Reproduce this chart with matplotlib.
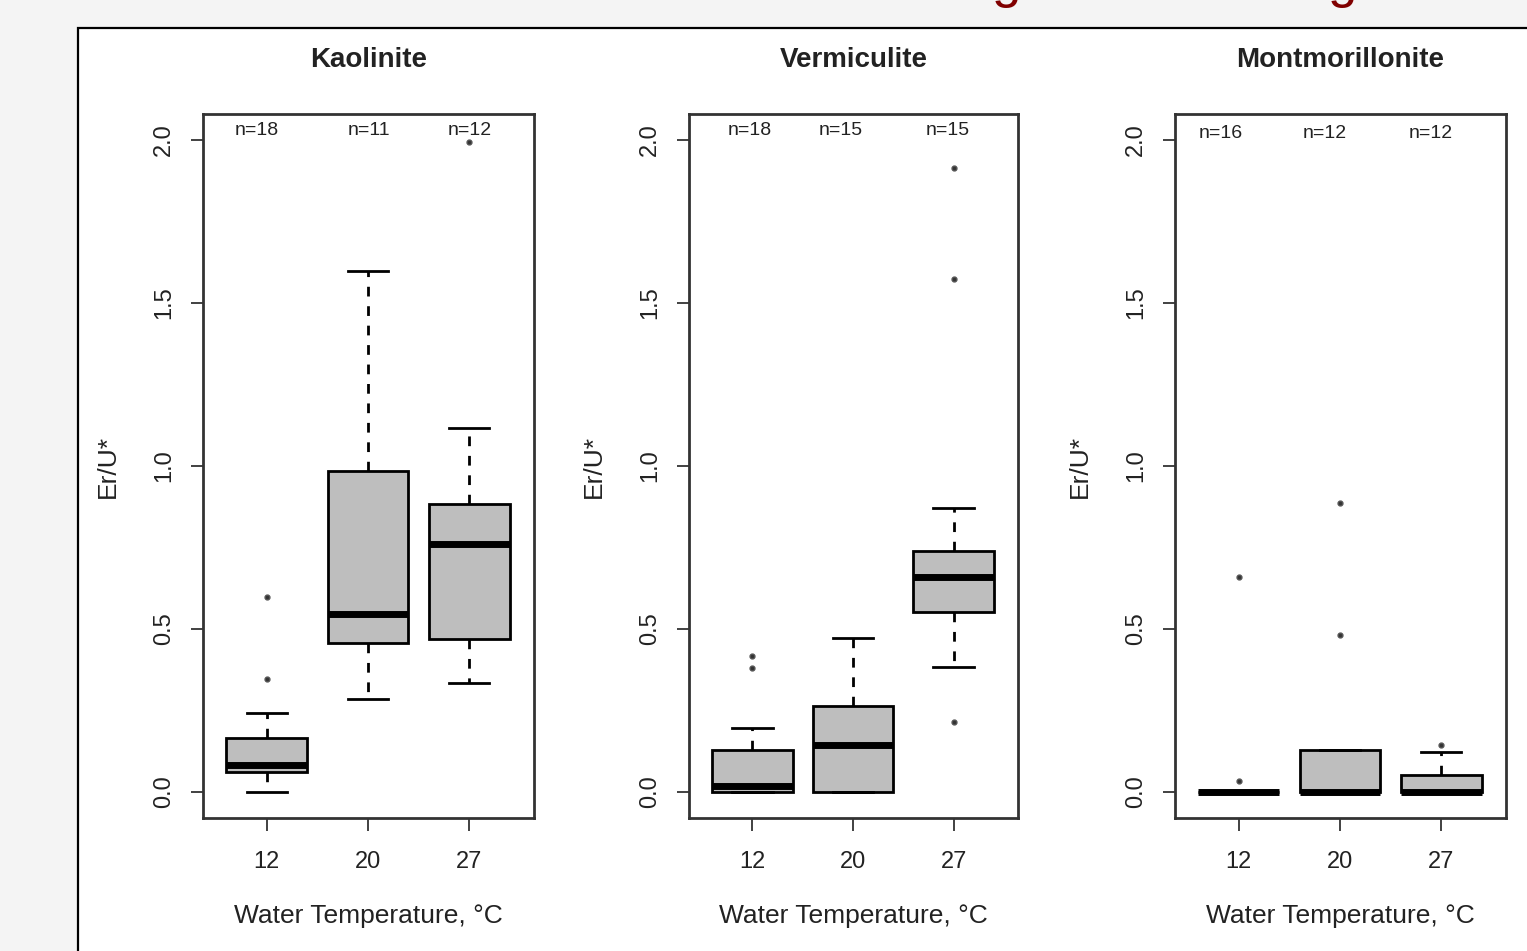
import matplotlib.pyplot as plt
from matplotlib.patches import Rectangle

plt.rcParams['font.family'] = ['Liberation Sans', 'DejaVu Sans']

# box statistics, one list per panel (12, 20, 27 degC)
titles = ["Kaolinite", "Vermiculite", "Montmorillonite"]
temps = ["12", "20", "27"]

kao_whislo = [0.0, 0.285, 0.334]
kao_q1 = [0.061, 0.456, 0.469]
kao_med = [0.083, 0.545, 0.760]
kao_q3 = [0.165, 0.986, 0.882]
kao_whishi = [0.242, 1.599, 1.118]
kao_fliers = [[0.346, 0.597], [], [1.994]]
kao_n = [18, 11, 12]

ver_whislo = [0.0, 0.0, 0.383]
ver_q1 = [0.0, 0.0, 0.551]
ver_med = [0.019, 0.144, 0.658]
ver_q3 = [0.129, 0.263, 0.738]
ver_whishi = [0.196, 0.472, 0.870]
ver_fliers = [[0.380, 0.416], [], [0.214, 1.574, 1.914]]
ver_n = [18, 15, 15]

mon_whislo = [0.0, 0.0, 0.0]
mon_q1 = [0.0, 0.0, 0.0]
mon_med = [0.0, 0.0, 0.0]
mon_q3 = [0.0, 0.129, 0.052]
mon_whishi = [0.0, 0.129, 0.122]
mon_fliers = [[0.034, 0.659], [0.481, 0.888], [0.144]]
mon_n = [16, 12, 12]

panels = [
    (kao_whislo, kao_q1, kao_med, kao_q3, kao_whishi, kao_fliers, kao_n),
    (ver_whislo, ver_q1, ver_med, ver_q3, ver_whishi, ver_fliers, ver_n),
    (mon_whislo, mon_q1, mon_med, mon_q3, mon_whishi, mon_fliers, mon_n),
]
# where the "n=" labels sit (x in box units, y as axes fraction)
n_xpos = [[0.90, 2.01, 3.01], [0.97, 1.88, 2.94], [0.82, 1.85, 2.90]]
n_ypos = [0.977, 0.977, 0.973]

W, H = 1527, 951
fig = plt.figure(figsize=(W / 100, H / 100), dpi=100)
fig.patch.set_facecolor('#f4f4f4')

# white slide panel with black border on top/left
fig.add_artist(Rectangle((78 / W, -0.01), 1.0, (H - 28) / H + 0.01,
                         transform=fig.transFigure, facecolor='white',
                         edgecolor='black', linewidth=1.6, zorder=0))

# cut-off dark red slide heading (only descenders visible)
for gx in [1006, 1342]:
    fig.text(gx / W, 1 + 3 / H, "g", color='#800000', fontsize=38,
             ha='center', va='baseline')

lefts = [203, 689, 1175]
widths_px = [331, 329, 331]
bottom = (H - 818) / H
height = (818 - 114) / H

for i, (lo, q1, med, q3, hi, fl, ns) in enumerate(panels):
    ax = fig.add_axes([lefts[i] / W, bottom, widths_px[i] / W, height])
    stats = []
    for j in range(3):
        stats.append(dict(whislo=lo[j], q1=q1[j], med=med[j], q3=q3[j],
                          whishi=hi[j], fliers=fl[j]))
    ax.bxp(stats, positions=[1, 2, 3], widths=0.8, patch_artist=True,
           boxprops=dict(facecolor='#bebebe', edgecolor='black', linewidth=2),
           medianprops=dict(color='black', linewidth=5, solid_capstyle='butt'),
           whiskerprops=dict(color='black', linewidth=2, linestyle=(0, (3.5, 3.5))),
           capprops=dict(color='black', linewidth=2),
           flierprops=dict(marker='o', markersize=3.5, markerfacecolor='#333333',
                           markeredgecolor='#555555'))
    ax.set_xlim(0.37, 3.64)
    ax.set_ylim(-0.08, 2.08)
    ax.set_yticks([0.0, 0.5, 1.0, 1.5, 2.0])
    ax.set_yticklabels(["0.0", "0.5", "1.0", "1.5", "2.0"], rotation=90, va='center')
    ax.set_xticks([1, 2, 3])
    ax.set_xticklabels(temps)
    ax.tick_params(axis='both', length=9, width=1.3, labelsize=17, color='#333333',
                   labelcolor='#222222')
    ax.tick_params(axis='y', pad=11)
    ax.tick_params(axis='x', pad=15)
    for s in ax.spines.values():
        s.set_linewidth(2)
        s.set_color('#333333')
    ax.set_xlabel("Water Temperature, \u00b0C", fontsize=19, color='#222222', labelpad=22)
    ax.set_ylabel("Er/U*", fontsize=19, color='#222222', labelpad=24)
    ax.text(0.5, 1 + 54 / 704, titles[i], transform=ax.transAxes, ha='center',
            va='center', fontsize=20, fontweight='bold', color='#222222')
    for j in range(3):
        ax.text(n_xpos[i][j], n_ypos[i], "n=%d" % ns[j], ha='center', va='center',
                transform=ax.get_xaxis_transform(), fontsize=14, color='#222222')

fig.savefig("out.png", dpi=100, facecolor=fig.get_facecolor())
